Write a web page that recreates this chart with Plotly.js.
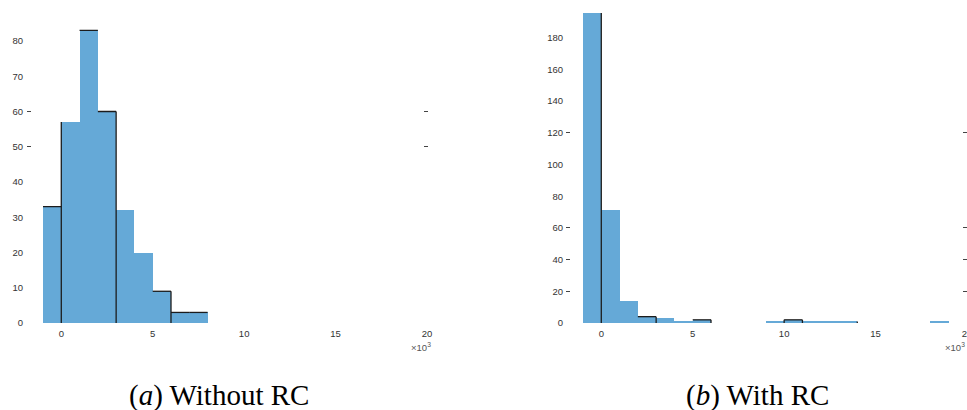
<!DOCTYPE html>
<html>
<head>
<meta charset="utf-8">
<script src="https://cdn.plot.ly/plotly-3.0.1.min.js"></script>
<style>html,body{margin:0;padding:0;background:#fff;}#chart{width:967px;height:410px;}</style>
</head>
<body>
<div id="chart"></div>
<script>
// ---- data (x in units of 10^3) ----
const binStartA = [-1, 0, 1, 2, 3, 4, 5, 6, 7];
const countsA   = [33, 57, 83, 60, 32, 20, 9, 3, 3];
const binStartB = [-1, 0, 1, 2, 3, 4, 5, 6, 7, 8, 9, 10, 11, 12, 13, 14, 15, 16, 17, 18, 19];
const countsB   = [198, 71, 14, 4, 3, 1, 2, 0, 0, 0, 1, 2, 1, 1, 1, 0, 0, 0, 0, 1, 0];
const xTicks = [0, 5, 10, 15, 20];
const yTicksA = [0, 10, 20, 30, 40, 50, 60, 70, 80];
const yTicksB = [0, 20, 40, 60, 80, 100, 120, 140, 160, 180];
const markedYA = [50, 60];
const markedYB = [20, 40, 60, 120];
// bins whose top edge is inked, and bin edges whose vertical edge is inked
const inkTopA = [0, 2, 3, 6, 7, 8];
const inkEdgeA = [0, 3, 6];
const inkTopB = [3, 6, 11];
const inkEdgeB = [0, 3, 6, 10, 11, 14];
const captions = ['(<i>a</i>) Without RC', '(<i>b</i>) With RC'];

const W = 967, H = 410;
const fill = '#65a9d7';
const ink = '#1c1c1c';

function inkPath(starts, counts, tops, edges) {
  const xs = [], ys = [];
  tops.forEach(i => { xs.push(starts[i], starts[i] + 1, null); ys.push(counts[i], counts[i], null); });
  edges.forEach(e => {
    const iL = starts.indexOf(e - 1), iR = starts.indexOf(e);
    const h = Math.max(iL >= 0 ? counts[iL] : 0, iR >= 0 ? counts[iR] : 0);
    xs.push(e, e, null); ys.push(0, h, null);
  });
  return {xs, ys};
}

function bars(starts, counts, xa, ya) {
  return {
    type: 'bar', x: starts.map(s => s + 0.5), y: counts, width: 1,
    marker: {color: fill, line: {color: fill, width: 0}},
    xaxis: xa, yaxis: ya, hoverinfo: 'skip', showlegend: false
  };
}
function inkTrace(p, xa, ya) {
  return {type: 'scatter', mode: 'lines', x: p.xs, y: p.ys, connectgaps: false,
    line: {color: ink, width: 1.3}, xaxis: xa, yaxis: ya, hoverinfo: 'skip', showlegend: false};
}

const pA = inkPath(binStartA, countsA, inkTopA, inkEdgeA);
const pB = inkPath(binStartB, countsB, inkTopB, inkEdgeB);

const data = [
  bars(binStartA, countsA, 'x', 'y'),
  inkTrace(pA, 'x', 'y'),
  bars(binStartB, countsB, 'x2', 'y2'),
  inkTrace(pB, 'x2', 'y2')
];

const tickFont = {family: 'Liberation Sans, Arial, sans-serif', size: 9.5, color: '#333'};
const yBottom = (H - 323) / H;
const xDomA = [43 / W, 427 / W];
const xDomB = [583 / W, 1];
const yDomA = [yBottom, (H - 23.4) / H];
const yDomB = [yBottom, (H - 13) / H];
const rangeA = [0, 85];
const rangeB = [0, 195.6];

function xAxis(dom, anchor) {
  return {domain: dom, anchor: anchor, range: [-1, 20], tickvals: xTicks, ticktext: xTicks.map(String),
    ticks: '', showgrid: false, zeroline: false, showline: false, tickfont: tickFont,
    ticklabelstandoff: 3, ticklabeloverflow: 'allow', fixedrange: true};
}
function yAxis(dom, anchor, range, vals) {
  return {domain: dom, anchor: anchor, range: range, tickvals: vals, ticktext: vals.map(String),
    ticks: '', showgrid: false, zeroline: false, showline: false, tickfont: tickFont,
    ticklabelstandoff: 19, ticklabeloverflow: 'allow', fixedrange: true};
}
function markAxis(over, range, vals, side, pos) {
  return {overlaying: over, anchor: 'free', position: pos, side: side, range: range, tickvals: vals,
    ticks: 'inside', ticklen: 4, tickwidth: 1, tickcolor: '#444', showticklabels: false,
    showgrid: false, zeroline: false, showline: false, fixedrange: true};
}
function markX(over, anchor, range) {
  return {overlaying: over, anchor: anchor, range: range, tickvals: [20], ticks: 'inside', ticklen: 4,
    tickwidth: 1, tickcolor: '#555', showticklabels: false, showgrid: false, zeroline: false,
    showline: false, fixedrange: true};
}

const layout = {
  width: W, height: H, margin: {l: 0, r: 0, t: 0, b: 0},
  paper_bgcolor: '#fff', plot_bgcolor: '#fff', bargap: 0,
  xaxis: xAxis(xDomA, 'y'),
  yaxis: yAxis(yDomA, 'x', rangeA, yTicksA),
  xaxis2: xAxis(xDomB, 'y2'),
  yaxis2: yAxis(yDomB, 'x2', rangeB, yTicksB),
  yaxis3: markAxis('y', rangeA, markedYA, 'left', 26 / W),
  yaxis4: markAxis('y', rangeA, markedYA, 'right', 428 / W),
  yaxis5: markAxis('y2', rangeB, markedYB, 'left', 565 / W),
  yaxis6: markAxis('y2', rangeB, markedYB, 'right', 1),
  xaxis3: markX('x', 'y', [-1, 20]),
  xaxis4: markX('x2', 'y2', [-1, 20.05]),
  annotations: [
    {xref: 'paper', yref: 'paper', x: 433 / W, y: (H - 347) / H, xanchor: 'right', yanchor: 'middle',
     text: '×10<sup>3</sup>', showarrow: false, font: {family: 'Liberation Sans, Arial, sans-serif', size: 9.5, color: '#555'}},
    {xref: 'paper', yref: 'paper', x: 943 / W, y: (H - 347) / H, xanchor: 'left', yanchor: 'middle',
     text: '×10<sup>3</sup>', showarrow: false, font: {family: 'Liberation Sans, Arial, sans-serif', size: 9.5, color: '#555'}},
    {xref: 'paper', yref: 'paper', x: 219 / W, y: (H - 395) / H, xanchor: 'center', yanchor: 'middle',
     text: captions[0], showarrow: false, font: {family: 'Liberation Serif, Times New Roman, serif', size: 29, color: '#000'}},
    {xref: 'paper', yref: 'paper', x: 757 / W, y: (H - 395) / H, xanchor: 'center', yanchor: 'middle',
     text: captions[1], showarrow: false, font: {family: 'Liberation Serif, Times New Roman, serif', size: 29, color: '#000'}}
  ]
};

// empty traces so overlay axes are drawn
data.push({type: 'scatter', x: [null], y: [null], xaxis: 'x', yaxis: 'y3', showlegend: false, hoverinfo: 'skip'});
data.push({type: 'scatter', x: [null], y: [null], xaxis: 'x', yaxis: 'y4', showlegend: false, hoverinfo: 'skip'});
data.push({type: 'scatter', x: [null], y: [null], xaxis: 'x2', yaxis: 'y5', showlegend: false, hoverinfo: 'skip'});
data.push({type: 'scatter', x: [null], y: [null], xaxis: 'x2', yaxis: 'y6', showlegend: false, hoverinfo: 'skip'});
data.push({type: 'scatter', x: [null], y: [null], xaxis: 'x3', yaxis: 'y', showlegend: false, hoverinfo: 'skip'});
data.push({type: 'scatter', x: [null], y: [null], xaxis: 'x4', yaxis: 'y2', showlegend: false, hoverinfo: 'skip'});

Plotly.newPlot('chart', data, layout, {displayModeBar: false, staticPlot: true});
</script>
</body>
</html>
